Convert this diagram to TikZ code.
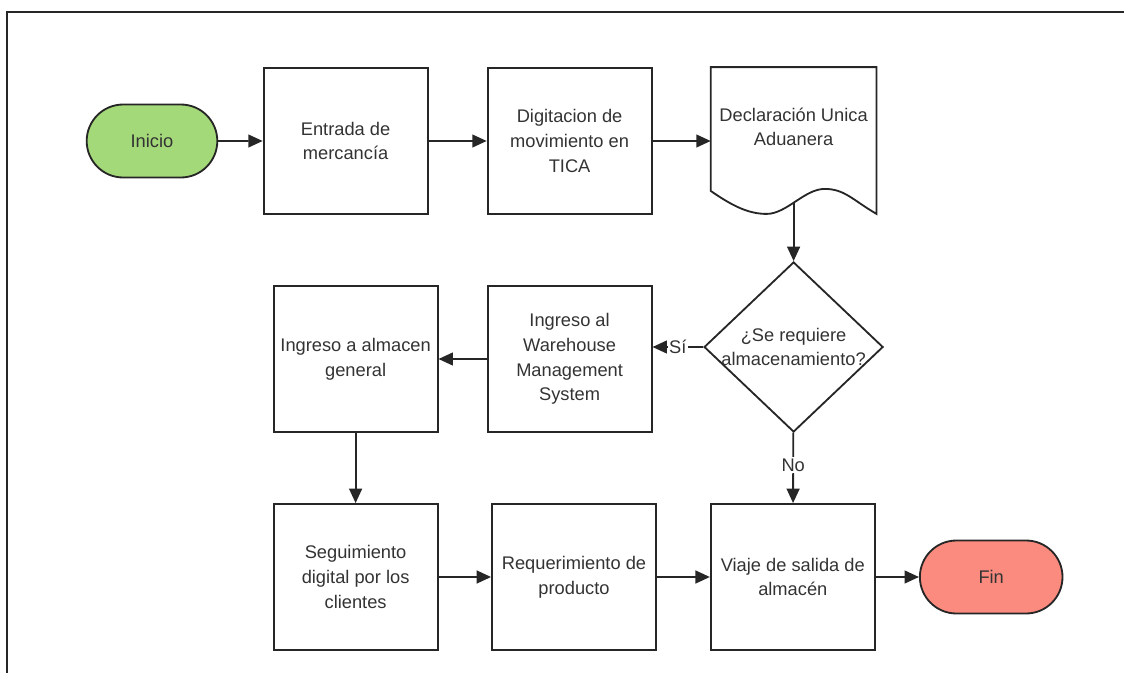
\documentclass[tikz,border=0pt]{standalone}
\usepackage{fontspec}
\setmainfont{Liberation Sans}
\usepackage{tikz}
\usetikzlibrary{positioning}
\usetikzlibrary{shapes.geometric,shapes.misc,arrows.meta}

\definecolor{verdeinicio}{HTML}{A4D97A}
\definecolor{rojofin}{HTML}{FA8B7E}
\definecolor{texto}{HTML}{333333}

\tikzset{
  base/.style={draw=black!85, line width=1.3pt, text=texto, align=center,
               font=\fontsize{13}{17.5}\selectfont},
  proceso/.style={base, rectangle, minimum width=4.1cm, minimum height=3.65cm},
  terminal/.style={base, rounded rectangle, minimum height=1.825cm},
  decision/.style={base, diamond, minimum width=4.475cm, minimum height=4.25cm, inner sep=0pt},
  documento/.style={base, draw=none, rectangle, minimum width=4.1cm, minimum height=3.65cm},
  etiqueta/.style={fill=white, inner sep=1pt, text=texto, font=\fontsize{13}{17.5}\selectfont},
  flecha/.style={->, black!85, line width=1.3pt},
}

\begin{document}
\begin{tikzpicture}[node distance=5.6cm, on grid, >={Triangle[length=0.36cm,width=0.32cm]}]
      \useasboundingbox (0,0) rectangle (28.1,-16.825);
      % marco
      \draw[line width=1.3pt, black!85] (0.175,-16.825) |- (28.1,-0.3);

      \node[terminal, fill=verdeinicio, minimum width=3.5cm] (inicio) at (3.8,-3.525) {Inicio};
      \node[proceso, right=4.84cm of inicio]  (entrada) {Entrada de\\mercancía};
      \node[proceso, right=of entrada]        (digit)   {Digitacion de\\movimiento en\\TICA};
      \node[documento, right=of digit,
            label={[base, draw=none, yshift=0.35cm]center:Declaración Unica\\Aduanera}] (dua) {};
      \node[decision, below=5.15cm of dua,
            label={[base, draw=none]center:¿Se requiere\\almacenamiento?}] (dec) {};
      \node[proceso, below=5.45cm of digit]   (wms)     {Ingreso al\\Warehouse\\Management\\System};
      \node[proceso, left=5.35cm of wms]      (alm)     {Ingreso a almacen\\general};
      \node[proceso, below=5.45cm of alm]     (seg)     {Seguimiento\\digital por los\\clientes};
      \node[proceso, right=5.46cm of seg]     (req)     {Requerimiento de\\producto};
      \node[proceso, right=5.47cm of req]     (viaje)   {Viaje de salida de\\almacén};
      \node[terminal, fill=rojofin, minimum width=3.8cm, right=4.96cm of viaje] (fin) {Fin};

      % hoja con borde ondulado
      \draw[base] (dua.north east) -- (dua.north west) -- ([yshift=0.6cm]dua.south west)
            .. controls +(0.55,-0.38) and +(-0.45,0) .. ([xshift=-0.675cm,yshift=0.025cm]dua.south)
            .. controls +(0.5,0) and +(-0.5,0) .. ([xshift=0.775cm,yshift=0.65cm]dua.south)
            .. controls +(0.5,0) and +(-0.6,0.35) .. ([yshift=0.025cm]dua.south east)
            -- cycle;
      \coordinate (duaout) at ([yshift=0.3cm]dua.south);
      \coordinate (sientra) at (dec.west -| wms.east);

      \path[flecha]
                (inicio)  edge (entrada)
                (entrada) edge (digit)
                (digit)   edge (dua)
                (duaout)  edge (dec)
                (dec.west) edge node[etiqueta] {Sí} (sientra)
                (dec)     edge node[etiqueta, pos=0.46] {No} (viaje)
                (wms)     edge (alm)
                (alm)     edge (seg)
                (seg)     edge (req)
                (req)     edge (viaje)
                (viaje)   edge (fin)
                ;
\end{tikzpicture}
\end{document}
